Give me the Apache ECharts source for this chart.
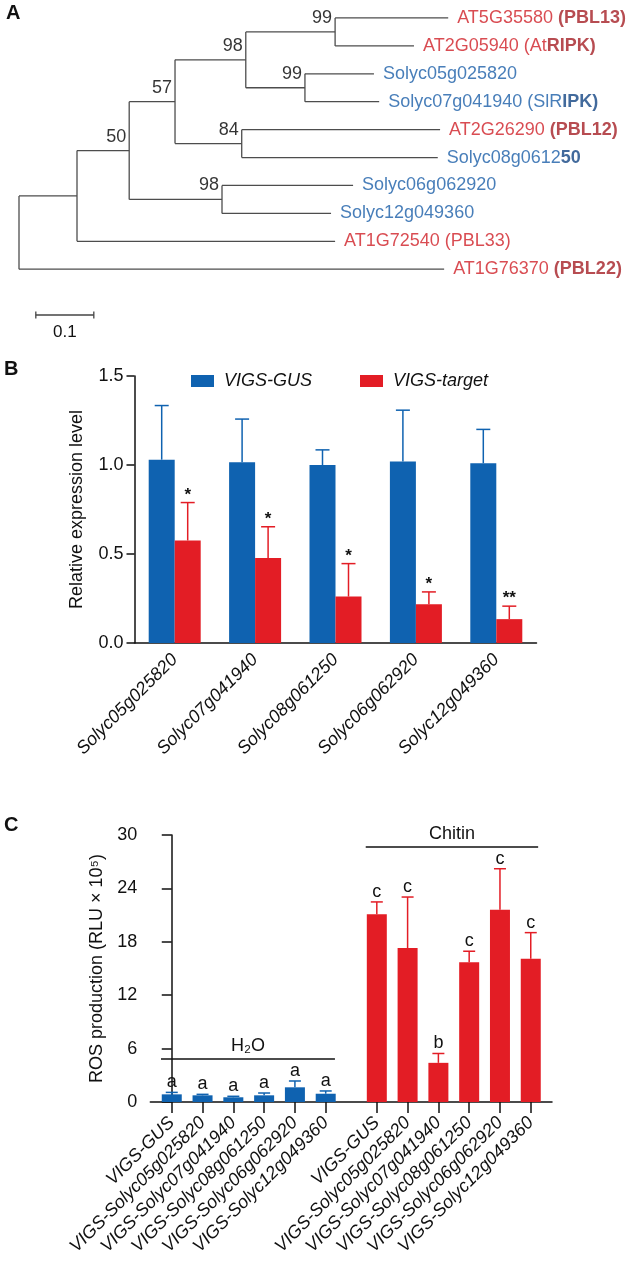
<!DOCTYPE html>
<html>
<head>
<meta charset="utf-8">
<script src="https://cdn.jsdelivr.net/npm/echarts@6/dist/echarts.min.js"></script>
<style>
  html, body { margin: 0; padding: 0; background: #fff; }
  #chart { width: 633px; height: 1262px; }
</style>
</head>
<body>
<div id="chart"></div>
<script>
// ---------- A: tree ----------
var leafMain = ['AT5G35580 ', 'AT2G05940 (At', 'Solyc05g025820', 'Solyc07g041940 (SlR', 'AT2G26290 ',
                'Solyc08g0612', 'Solyc06g062920', 'Solyc12g049360', 'AT1G72540 (PBL33)', 'AT1G76370 '];
var leafBold = ['(PBL13)', 'RIPK)', '', 'IPK)', '(PBL12)', '50', '', '', '', '(PBL22)'];
var leafGroup = ['at', 'at', 'sl', 'sl', 'at', 'sl', 'sl', 'sl', 'at', 'at'];
var leafDepth = [0.740, 0.681, 0.612, 0.621, 0.726, 0.722, 0.576, 0.538, 0.545, 0.733];
// internal nodes (depth from root, children, bootstrap)
var nodeDepth = [0, 0.100, 0.190, 0.269, 0.391, 0.384, 0.350, 0.545, 0.493];
var nodeKids = [['N1', 'L9'], ['N2', 'L8'], ['N3', 'N6'], ['N4', 'N5'], ['N7', 'N8'],
                ['L4', 'L5'], ['L6', 'L7'], ['L0', 'L1'], ['L2', 'L3']];
var nodeSupport = [null, null, 50, 57, 98, 84, 98, 99, 99];
var scaleLen = 0.1;

// ---------- B: qRT-PCR ----------
var genes = ['Solyc05g025820', 'Solyc07g041940', 'Solyc08g061250', 'Solyc06g062920', 'Solyc12g049360'];
var gusMean = [1.03, 1.015, 1.0, 1.02, 1.01];
var gusErr = [0.304, 0.243, 0.085, 0.288, 0.19];
var targetMean = [0.576, 0.477, 0.261, 0.217, 0.134];
var targetErr = [0.213, 0.176, 0.185, 0.07, 0.073];
var targetSig = ['*', '*', '*', '*', '**'];

// ---------- C: ROS ----------
var rosLabels = ['VIGS-GUS', 'VIGS-Solyc05g025820', 'VIGS-Solyc07g041940', 'VIGS-Solyc08g061250',
                 'VIGS-Solyc06g062920', 'VIGS-Solyc12g049360'];
var h2oMean = [0.86, 0.75, 0.53, 0.75, 1.65, 0.93];
var h2oErr = [0.22, 0.11, 0.11, 0.26, 0.71, 0.31];
var h2oLetters = ['a', 'a', 'a', 'a', 'a', 'a'];
var chitinMean = [21.1, 17.3, 4.4, 15.7, 21.6, 16.1];
var chitinErr = [1.38, 5.73, 1.05, 1.24, 4.61, 2.93];
var chitinLetters = ['c', 'c', 'b', 'c', 'c', 'c'];

var FONT = 'Arial, "Liberation Sans", Helvetica, sans-serif';
var FS = 18;
var BLUE = '#0f62b0', RED = '#e31d25';
var TXT_RED = '#cf1f27', TXT_RED_B = '#a51f25', TXT_BLUE = '#1a5ea8', TXT_BLUE_B = '#134583';

// tree layout from the data
function refY(ref) {
  var i = +ref.slice(1);
  if (ref[0] === 'L') return i;
  var k = nodeKids[i];
  return (refY(k[0]) + refY(k[k.length - 1])) / 2;
}
function refDepth(ref) {
  var i = +ref.slice(1);
  return ref[0] === 'L' ? leafDepth[i] : nodeDepth[i];
}
var treeSegs = [];
var nodeY = nodeDepth.map(function (d, i) { return refY('N' + i); });
nodeKids.forEach(function (kids, i) {
  var d = nodeDepth[i];
  treeSegs.push([d, refY(kids[0]), d, refY(kids[kids.length - 1])]);
  kids.forEach(function (k) { treeSegs.push([d, refY(k), refDepth(k), refY(k)]); });
});
var supportPts = [];
nodeSupport.forEach(function (s, i) { if (s !== null) supportPts.push([nodeDepth[i], nodeY[i], s]); });

// C x positions: second group shifted by a gap
var groupGap = 1.66;
var rosPos = [], rosNames = [];
rosLabels.forEach(function (n, i) { rosPos.push(i); rosNames.push(n); });
rosLabels.forEach(function (n, i) { rosPos.push(5 + groupGap + i); rosNames.push(n); });
var errC = [], letterC = [], colorC = [];
h2oMean.forEach(function (m, i) { errC.push([rosPos[i], m + h2oErr[i], m]); letterC.push(h2oLetters[i]); colorC.push(BLUE); });
chitinMean.forEach(function (m, i) { errC.push([rosPos[6 + i], m + chitinErr[i], m]); letterC.push(chitinLetters[i]); colorC.push(RED); });

var errB = [], sigB = [];
gusMean.forEach(function (m, i) { errB.push([i, m + gusErr[i], m, -1]); sigB.push(''); });
targetMean.forEach(function (m, i) { errB.push([i, m + targetErr[i], m, 1]); sigB.push(targetSig[i]); });

var chart = echarts.init(document.getElementById('chart'));

var axisBlack = { lineStyle: { color: '#111', width: 1.5 } };

var option = {
  animation: false,
  textStyle: { fontFamily: FONT },
  graphic: [
    { type: 'text', left: 6, top: 3, style: { text: 'A', font: 'bold 20px ' + FONT, fill: '#111' } },
    { type: 'text', left: 4, top: 359, style: { text: 'B', font: 'bold 20px ' + FONT, fill: '#111' } },
    { type: 'text', left: 4, top: 815, style: { text: 'C', font: 'bold 20px ' + FONT, fill: '#111' } }
  ],
  legend: {
    data: ['VIGS-GUS', 'VIGS-target'],
    top: 367, left: 186,
    icon: 'rect', itemWidth: 23, itemHeight: 12, itemGap: 48,
    selectedMode: false,
    textStyle: { fontStyle: 'italic', fontSize: FS, color: '#111', padding: [0, 0, 0, 5] }
  },
  grid: [
    { left: 19, top: 4, width: 580, height: 335 },
    { left: 134.5, right: 96.5, top: 376, bottom: 619 },
    { left: 150.3, right: 81, top: 835, bottom: 160 }
  ],
  xAxis: [
    { gridIndex: 0, type: 'value', min: 0, max: 1, show: false },
    {
      gridIndex: 1, type: 'category', data: genes,
      axisLine: axisBlack,
      axisTick: { alignWithLabel: true, length: 7, lineStyle: { color: '#111', width: 1.5 } },
      axisLabel: { rotate: 45, interval: 0, margin: 14, fontSize: FS, fontStyle: 'italic', color: '#111' }
    },
    {
      gridIndex: 2, type: 'value', min: -0.697, max: 12.35, splitLine: { show: false },
      axisLine: axisBlack,
      axisTick: { customValues: rosPos, length: 11, lineStyle: { color: '#111', width: 1.5 } },
      axisLabel: {
        customValues: rosPos, rotate: 45, margin: 18, fontSize: FS, fontStyle: 'italic', color: '#111',
        formatter: function (v) {
          for (var i = 0; i < rosPos.length; i++) if (Math.abs(rosPos[i] - v) < 1e-6) return rosNames[i];
          return '';
        }
      }
    }
  ],
  yAxis: [
    { gridIndex: 0, type: 'value', min: -0.5, max: 11.5, inverse: true, show: false },
    {
      gridIndex: 1, type: 'value', min: 0, max: 1.5, interval: 0.5,
      splitLine: { show: false },
      axisLine: { show: true, lineStyle: { color: '#111', width: 1.5 } },
      axisTick: { show: true, length: 8, lineStyle: { color: '#111', width: 1.5 } },
      axisLabel: { margin: 11, fontSize: FS, color: '#111', formatter: function (v) { return v.toFixed(1); } },
      name: 'Relative expression level', nameLocation: 'middle', nameGap: 48,
      nameTextStyle: { fontSize: FS, color: '#111' }
    },
    {
      gridIndex: 2, type: 'value', min: 0, max: 30, interval: 6,
      splitLine: { show: false },
      axisLine: { show: true, lineStyle: { color: '#111', width: 1.5 } },
      axisTick: { show: true, length: 10, lineStyle: { color: '#111', width: 1.5 } },
      axisLabel: { margin: 13, fontSize: FS, color: '#111' },
      name: 'ROS production (RLU \u00d7 10\u2075)', nameLocation: 'middle', nameGap: 43,
      nameTextStyle: { fontSize: FS, color: '#111' }
    }
  ],
  series: [
    // tree branches
    {
      type: 'custom', xAxisIndex: 0, yAxisIndex: 0, silent: true,
      data: treeSegs,
      encode: { x: [0, 2], y: [1, 3] },
      renderItem: function (params, api) {
        var a = api.coord([api.value(0), api.value(1)]);
        var b = api.coord([api.value(2), api.value(3)]);
        return { type: 'line', shape: { x1: a[0], y1: a[1], x2: b[0], y2: b[1] },
                 style: { stroke: '#4d4d4d', lineWidth: 1.3 } };
      }
    },
    // scale bar
    {
      type: 'custom', xAxisIndex: 0, yAxisIndex: 0, silent: true,
      data: [[0.029, 10.64, 0.029 + scaleLen]],
      renderItem: function (params, api) {
        var a = api.coord([api.value(0), api.value(1)]);
        var b = api.coord([api.value(2), api.value(1)]);
        var st = { stroke: '#444', lineWidth: 1.3 };
        return { type: 'group', children: [
          { type: 'line', shape: { x1: a[0], y1: a[1], x2: b[0], y2: b[1] }, style: st },
          { type: 'line', shape: { x1: a[0], y1: a[1] - 3.5, x2: a[0], y2: a[1] + 3.5 }, style: st },
          { type: 'line', shape: { x1: b[0], y1: b[1] - 3.5, x2: b[0], y2: b[1] + 3.5 }, style: st },
          { type: 'text', x: (a[0] + b[0]) / 2, y: a[1] + 17,
            style: { text: String(scaleLen), font: '17px ' + FONT, fill: '#111', align: 'center', verticalAlign: 'middle' } }
        ] };
      }
    },
    // leaf labels
    {
      type: 'scatter', xAxisIndex: 0, yAxisIndex: 0, silent: true, symbolSize: 0,
      data: leafDepth.map(function (d, i) { return [d, i]; }),
      label: {
        show: true, position: 'right', distance: 9, fontSize: FS,
        formatter: function (p) {
          var i = p.dataIndex, g = leafGroup[i];
          var s = '{' + g + '|' + leafMain[i] + '}';
          if (leafBold[i]) s += '{' + g + 'B|' + leafBold[i] + '}';
          return s;
        },
        rich: {
          at: { color: TXT_RED, fontSize: FS },
          atB: { color: TXT_RED_B, fontSize: FS, fontWeight: 'bold' },
          sl: { color: TXT_BLUE, fontSize: FS },
          slB: { color: TXT_BLUE_B, fontSize: FS, fontWeight: 'bold' }
        }
      }
    },
    // bootstrap values
    {
      type: 'scatter', xAxisIndex: 0, yAxisIndex: 0, silent: true, symbolSize: 0,
      data: supportPts,
      label: {
        show: true, position: 'left', distance: 3, offset: [0, -14], fontSize: FS, color: '#000',
        formatter: function (p) { return p.value[2]; }
      }
    },
    // B bars
    {
      name: 'VIGS-GUS', type: 'bar', xAxisIndex: 1, yAxisIndex: 1,
      data: gusMean, barWidth: 26, barGap: '0%', itemStyle: { color: BLUE }
    },
    {
      name: 'VIGS-target', type: 'bar', xAxisIndex: 1, yAxisIndex: 1,
      data: targetMean, barWidth: 26, barGap: '0%', itemStyle: { color: RED }
    },
    // B error bars + stars
    {
      type: 'custom', xAxisIndex: 1, yAxisIndex: 1, silent: true, z: 3,
      data: errB,
      renderItem: function (params, api) {
        var base = api.coord([api.value(0), api.value(2)]);
        var top = api.coord([api.value(0), api.value(1)]);
        var x = base[0] + api.value(3) * 13;
        var col = api.value(3) < 0 ? BLUE : RED;
        var st = { stroke: col, lineWidth: 1.5 };
        var kids = [
          { type: 'line', shape: { x1: x, y1: base[1], x2: x, y2: top[1] }, style: st },
          { type: 'line', shape: { x1: x - 7, y1: top[1], x2: x + 7, y2: top[1] }, style: st }
        ];
        var sig = sigB[params.dataIndex];
        if (sig) kids.push({ type: 'text', x: x, y: top[1] + 1,
          style: { text: sig, font: 'bold 17px ' + FONT, fill: '#111', align: 'center', verticalAlign: 'bottom' } });
        return { type: 'group', children: kids };
      }
    },
    // C bars
    {
      name: 'H2O', type: 'bar', xAxisIndex: 2, yAxisIndex: 2,
      data: h2oMean.map(function (m, i) { return [rosPos[i], m]; }),
      barWidth: 20, barGap: '-100%', itemStyle: { color: BLUE },
      markLine: {
        silent: true, symbol: 'none',
        lineStyle: { color: '#111', width: 1.5, type: 'solid' },
        label: { show: true, position: 'middle', formatter: 'H\u2082O', fontSize: FS, color: '#111', distance: 4 },
        data: [[{ coord: [rosPos[0] - 0.35, 4.87] }, { coord: [rosPos[5] + 0.3, 4.87] }]]
      }
    },
    {
      name: 'Chitin', type: 'bar', xAxisIndex: 2, yAxisIndex: 2,
      data: chitinMean.map(function (m, i) { return [rosPos[6 + i], m]; }),
      barWidth: 20, barGap: '-100%', itemStyle: { color: RED },
      markLine: {
        silent: true, symbol: 'none',
        lineStyle: { color: '#111', width: 1.5, type: 'solid' },
        label: { show: true, position: 'middle', formatter: 'Chitin', fontSize: FS, color: '#111', distance: 4 },
        data: [[{ coord: [rosPos[6] - 0.36, 28.69] }, { coord: [rosPos[11] + 0.24, 28.69] }]]
      }
    },
    // C error bars + letters
    {
      type: 'custom', xAxisIndex: 2, yAxisIndex: 2, silent: true, z: 3,
      data: errC,
      renderItem: function (params, api) {
        var base = api.coord([api.value(0), api.value(2)]);
        var top = api.coord([api.value(0), api.value(1)]);
        var x = base[0];
        var st = { stroke: colorC[params.dataIndex], lineWidth: 1.5 };
        return { type: 'group', children: [
          { type: 'line', shape: { x1: x, y1: base[1], x2: x, y2: top[1] }, style: st },
          { type: 'line', shape: { x1: x - 6, y1: top[1], x2: x + 6, y2: top[1] }, style: st },
          { type: 'text', x: x, y: top[1] - 1,
            style: { text: letterC[params.dataIndex], font: '18px ' + FONT, fill: '#111', align: 'center', verticalAlign: 'bottom' } }
        ] };
      }
    }
  ]
};
chart.setOption(option);
</script>
</body>
</html>
